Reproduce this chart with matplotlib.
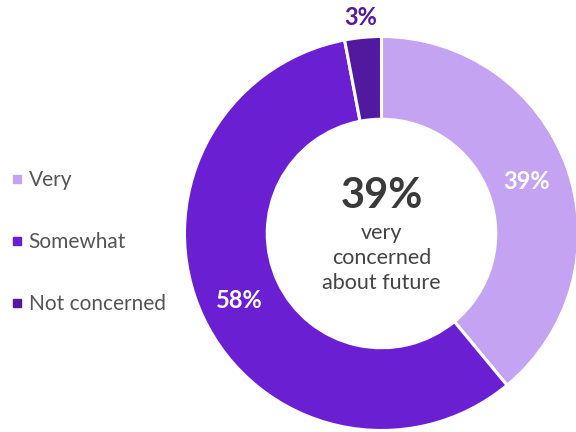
import numpy as np
import matplotlib
matplotlib.use("Agg")
import matplotlib.pyplot as plt
from matplotlib.lines import Line2D

categories = ["Very", "Somewhat", "Not concerned"]
values = [39, 58, 3]
labels = ["39%", "58%", "3%"]
colors = ["#C5A3F3", "#6B1FD3", "#5019A0"]
label_colors = ["white", "white", "#5019A0"]
label_radii = [0.785, 0.795, 1.10]
center_big = "39%"
center_text = "very\nconcerned\nabout future"

plt.rcParams['font.family'] = ['Lato', 'DejaVu Sans']

W, H = 576, 432
fig = plt.figure(figsize=(W / 100, H / 100), dpi=100)
ax = fig.add_axes([0, 0, 1, 1])

cx, cy, R = 381.5, 233.5, 197.0  # pixels (cy from top)

wedges, _ = ax.pie(values, colors=colors, startangle=90, counterclock=False,
                   radius=1.0, wedgeprops=dict(width=0.42, edgecolor="white", linewidth=2.2))
ax.set_aspect('auto')
ax.set_xlim(-cx / R, (W - cx) / R)
ax.set_ylim(-(H - cy) / R, cy / R)
ax.axis('off')

for w, lab, col, r in zip(wedges, labels, label_colors, label_radii):
    ang = np.deg2rad((w.theta1 + w.theta2) / 2)
    ax.text(r * np.cos(ang), r * np.sin(ang), lab, ha='center', va='center',
            color=col, fontsize=17, fontweight='bold')

ax.text(0, (233.5 - 196) / R, center_big, ha='center', va='center',
        fontsize=30, fontweight='bold', color='#3a3a3a')
ax.text(0, (233.5 - 258) / R, center_text, ha='center', va='center',
        fontsize=15.5, color='#444444', linespacing=1.32)

handles = [Line2D([0], [0], marker='s', linestyle='none', markersize=5.5,
                  markerfacecolor=c, markeredgecolor=c) for c in colors]
leg = fig.legend(handles, categories, loc='center left', bbox_to_anchor=(-0.012, 0.44),
                 frameon=False, fontsize=15, labelspacing=2.02, handlelength=0.5,
                 handletextpad=0.3, labelcolor='#555555')

fig.savefig("out.png", dpi=100)
